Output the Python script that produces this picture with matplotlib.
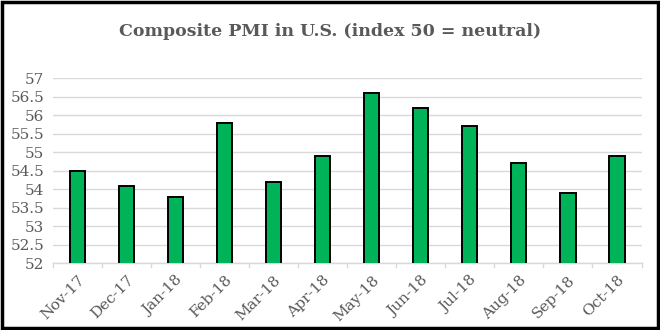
import matplotlib
matplotlib.use("Agg")
import matplotlib.pyplot as plt
from matplotlib.patches import Rectangle
import numpy as np

months = ["Nov-17", "Dec-17", "Jan-18", "Feb-18", "Mar-18", "Apr-18",
          "May-18", "Jun-18", "Jul-18", "Aug-18", "Sep-18", "Oct-18"]
pmi = [54.5, 54.1, 53.8, 55.8, 54.2, 54.9, 56.6, 56.2, 55.7, 54.7, 53.9, 54.9]
yticks = [52, 52.5, 53, 53.5, 54, 54.5, 55, 55.5, 56, 56.5, 57]

plt.rcParams['font.family'] = ['DejaVu Serif']
grey = '#595959'

fig = plt.figure(figsize=(6.6, 3.3), dpi=100)
ax = fig.add_axes([0.080, 0.202, 0.892, 0.561])

x = np.arange(len(months))
ax.bar(x, pmi, width=0.31, color='#00b358', edgecolor='black', linewidth=1.4,
       zorder=3)

ax.set_ylim(52, 57)
ax.set_xlim(-0.5, len(months) - 0.5)
ax.set_yticks(yticks)
ax.set_yticklabels(['%g' % v for v in yticks], color=grey, fontsize=11)
ax.yaxis.grid(True, color='#d9d9d9', linewidth=1.0, zorder=0)
ax.tick_params(axis='y', length=0, pad=6)

# category labels, with small tick marks between categories
ax.set_xticks(x)
ax.set_xticklabels(months, rotation=45, ha='right', rotation_mode='anchor',
                   color=grey, fontsize=11)
ax.tick_params(axis='x', length=0, pad=7)
for b in np.arange(-0.5, len(months), 1.0):
    ax.plot([b, b], [52, 51.9], color='#d9d9d9', lw=1.0, clip_on=False)

for s in ['top', 'right', 'left']:
    ax.spines[s].set_visible(False)
ax.spines['bottom'].set_color('#d9d9d9')
ax.spines['bottom'].set_linewidth(1.0)

fig.text(0.5, 0.905, "Composite PMI in U.S. (index 50 = neutral)",
         ha='center', va='center', fontsize=12.5, fontweight='bold', color=grey)

# outer frame
fig.patches.append(Rectangle((0.003, 0.005), 0.994, 0.99, transform=fig.transFigure,
                             fill=False, edgecolor='black', linewidth=2.5))

fig.savefig("out.png", dpi=100)
